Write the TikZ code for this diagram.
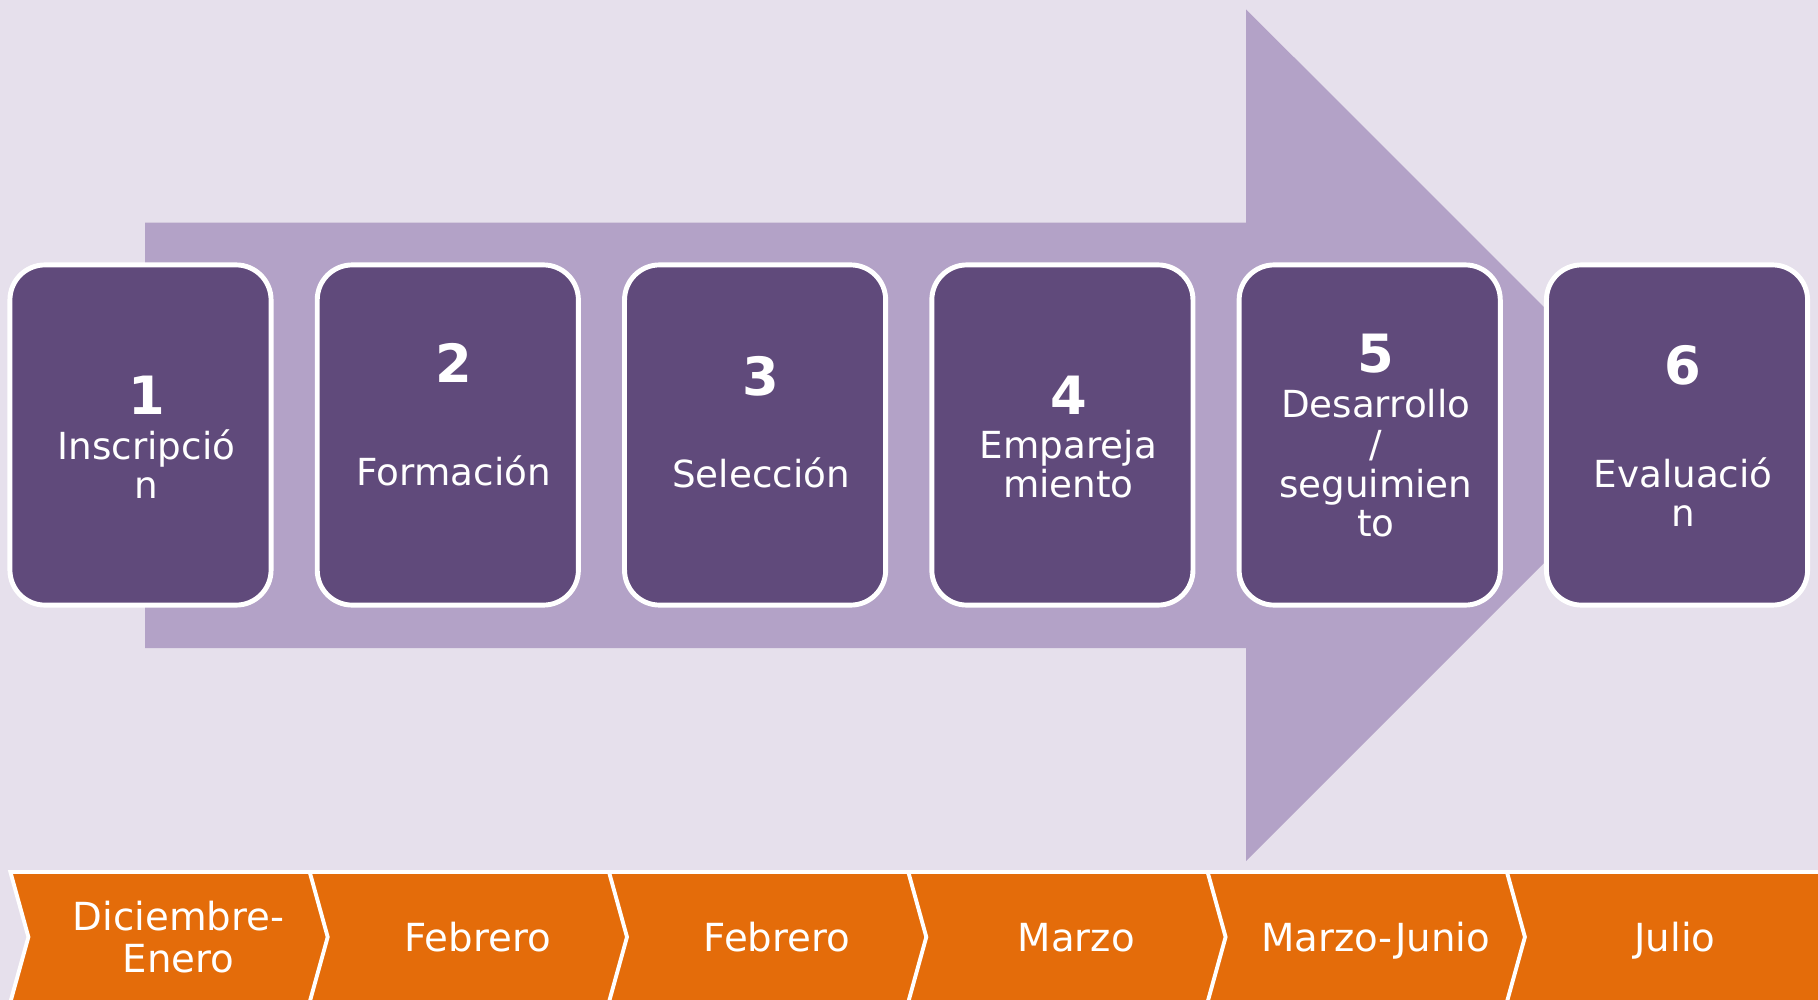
\documentclass[tikz,border=0pt]{standalone}
\usepackage{fontspec}
\setmainfont{DejaVu Sans}
\definecolor{fondo}{HTML}{E6E0EC}
\definecolor{flecha}{HTML}{B3A2C7}
\definecolor{morado}{HTML}{604A7B}
\definecolor{naranja}{HTML}{E46C0A}
\begin{document}
\begin{tikzpicture}[x=0.01cm,y=-0.01cm,
    caja/.style={draw=white,line width=1.4pt,fill=morado,rounded corners=0.35cm,minimum width=2.61cm,minimum height=3.40cm,inner sep=0pt},
    numero/.style={text=white,font=\fontsize{15}{18}\selectfont\bfseries,inner sep=0pt},
    etiqueta/.style={text=white,align=center,font=\fontsize{10.6}{11.3}\selectfont,inner sep=0pt},
    chevron/.style={draw=white,line width=1.1pt,fill=naranja},
    mes/.style={text=white,align=center,font=\fontsize{11}{11.9}\selectfont,inner sep=0pt,text depth=0pt}]
    \path[use as bounding box,fill=fondo] (0,0) rectangle (1818,1000);
    \clip (0,0) rectangle (1818,1000);
    % flecha de fondo
    \fill[flecha] (145,222.6)--(1246,222.6)--(1246,9.3)--(1672,435)--(1246,861)--(1246,648)--(145,648)--cycle;
    % pasos
    \foreach \i/\ny/\ly/\txt in {1/0.40cm/-0.29cm/{Inscripció\\n},2/0.72cm/-0.357cm/Formación,3/0.59cm/-0.38cm/Selección,4/0.40cm/-0.29cm/{Empareja\\miento},5/0.815cm/-0.283cm/{Desarrollo\\/\\seguimien\\to},6/0.70cm/-0.57cm/{Evaluació\\n}}{
        \path (140.5+307.3*\i-307.3,435) node[caja] (c\i) {};
        \path ([xshift=0.06cm,yshift=\ny]c\i.center) node[numero] (n\i) {\i};
        \path ([xshift=0.06cm,yshift=\ly]c\i.center) node[etiqueta] (e\i) {\txt};
    }
    % meses
    \foreach \j/\ancho/\mestxt in {1/300/{Diciembre-\\Enero},2/300/Febrero,3/300/Febrero,4/300/Marzo,5/300/Marzo-Junio,6/420/Julio}{
        \pgfmathsetmacro\L{10.4+299.3*(\j-1)}
        \draw[chevron] (\L,872)--++(\ancho,0)--++(18,65)--++(-18,65)--++(-\ancho,0)--++(18,-65)--cycle;
        \path (\L+168,937) node[mes] (m\j) {\mestxt};
    }
\end{tikzpicture}
\end{document}
